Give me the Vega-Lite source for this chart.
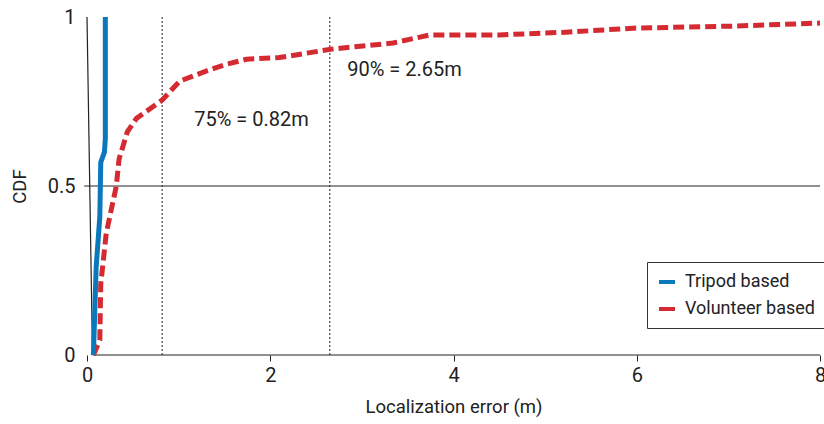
{
  "$schema": "https://vega.github.io/schema/vega-lite/v6.json",
  "width": 733,
  "height": 338,
  "autosize": {"type": "none"},
  "padding": {"left": 87, "top": 17, "right": 4, "bottom": 69},
  "background": "white",
  "config": {
    "view": {"stroke": null},
    "font": "Roboto, sans-serif",
    "text": {"font": "Roboto, sans-serif"}
  },
  "datasets": {
    "curves": [
      {"series": "Tripod based", "x": 0.07, "cdf": 0.0},
      {"series": "Tripod based", "x": 0.10, "cdf": 0.26},
      {"series": "Tripod based", "x": 0.14, "cdf": 0.41},
      {"series": "Tripod based", "x": 0.15, "cdf": 0.57},
      {"series": "Tripod based", "x": 0.19, "cdf": 0.60},
      {"series": "Tripod based", "x": 0.20, "cdf": 0.64},
      {"series": "Tripod based", "x": 0.20, "cdf": 1.0},
      {"series": "Volunteer based", "x": 0.07, "cdf": 0.0},
      {"series": "Volunteer based", "x": 0.14, "cdf": 0.044},
      {"series": "Volunteer based", "x": 0.15, "cdf": 0.21},
      {"series": "Volunteer based", "x": 0.21, "cdf": 0.36},
      {"series": "Volunteer based", "x": 0.32, "cdf": 0.50},
      {"series": "Volunteer based", "x": 0.35, "cdf": 0.58},
      {"series": "Volunteer based", "x": 0.44, "cdf": 0.66},
      {"series": "Volunteer based", "x": 0.54, "cdf": 0.70},
      {"series": "Volunteer based", "x": 0.82, "cdf": 0.754},
      {"series": "Volunteer based", "x": 1.01, "cdf": 0.81},
      {"series": "Volunteer based", "x": 1.30, "cdf": 0.84},
      {"series": "Volunteer based", "x": 1.52, "cdf": 0.86},
      {"series": "Volunteer based", "x": 1.74, "cdf": 0.875},
      {"series": "Volunteer based", "x": 2.10, "cdf": 0.88},
      {"series": "Volunteer based", "x": 2.67, "cdf": 0.905},
      {"series": "Volunteer based", "x": 3.34, "cdf": 0.923},
      {"series": "Volunteer based", "x": 3.74, "cdf": 0.947},
      {"series": "Volunteer based", "x": 4.50, "cdf": 0.947},
      {"series": "Volunteer based", "x": 5.23, "cdf": 0.955},
      {"series": "Volunteer based", "x": 5.96, "cdf": 0.967},
      {"series": "Volunteer based", "x": 7.05, "cdf": 0.973},
      {"series": "Volunteer based", "x": 8.0, "cdf": 0.982}
    ],
    "axisLines": [
      {"x": 0.0, "x2": 0.06, "y": 1.0, "y2": 0.0},
      {"x": 0.06, "x2": 8.0, "y": 0.0, "y2": 0.0},
      {"x": -0.03, "x2": 8.0, "y": 0.5, "y2": 0.5}
    ],
    "marks": [
      {"x": 0.82},
      {"x": 2.65}
    ],
    "labels": [
      {"x": 1.17, "y": 0.695, "text": "75% = 0.82m"},
      {"x": 2.84, "y": 0.843, "text": "90% = 2.65m"}
    ]
  },
  "layer": [
    {
      "data": {"name": "axisLines"},
      "mark": {"type": "rule", "color": "#222222", "strokeWidth": 1.2},
      "encoding": {
        "x": {"field": "x", "type": "quantitative", "scale": {"domain": [0, 8], "nice": false, "clamp": false},
          "axis": {"values": [0, 2, 4, 6, 8], "format": "~g", "domain": false, "grid": false, "ticks": true, "tickSize": 6, "tickColor": "#222222",
            "labelFlush": false, "labelFontSize": 20, "labelColor": "#222222", "labelPadding": 4,
            "title": "Localization error (m)", "titleFontSize": 18.5, "titleFontWeight": "normal", "titleColor": "#222222", "titlePadding": 12,
            "encode": {"labels": {"update": {"dx": {"signal": "datum.value === 0 ? -8 : 0"}}}}}},
        "x2": {"field": "x2"},
        "y": {"field": "y", "type": "quantitative", "scale": {"domain": [0, 1], "nice": false},
          "axis": {"values": [0, 0.5, 1], "format": "~g", "domain": false, "grid": false, "ticks": false,
            "labelFontSize": 20, "labelColor": "#222222", "labelPadding": 12,
            "title": "CDF", "titleFontSize": 18.5, "titleFontWeight": "normal", "titleColor": "#222222", "titlePadding": 18}},
        "y2": {"field": "y2"}
      }
    },
    {
      "data": {"name": "marks"},
      "mark": {"type": "rule", "color": "#222222", "strokeWidth": 1, "strokeDash": [2, 2]},
      "encoding": {
        "x": {"field": "x", "type": "quantitative"},
        "y": {"datum": 0, "type": "quantitative"},
        "y2": {"datum": 1}
      }
    },
    {
      "data": {"name": "labels"},
      "mark": {"type": "text", "align": "left", "baseline": "middle", "fontSize": 20, "color": "#222222"},
      "encoding": {
        "x": {"field": "x", "type": "quantitative"},
        "y": {"field": "y", "type": "quantitative"},
        "text": {"field": "text"}
      }
    },
    {
      "data": {"name": "curves"},
      "transform": [{"filter": "datum.series === 'Volunteer based'"}],
      "mark": {"type": "line", "strokeWidth": 5, "strokeDash": [11, 5], "strokeCap": "butt"},
      "encoding": {
        "x": {"field": "x", "type": "quantitative"},
        "y": {"field": "cdf", "type": "quantitative"},
        "order": {"field": "cdf"},
        "color": {"field": "series", "type": "nominal",
          "scale": {"domain": ["Tripod based", "Volunteer based"], "range": ["#0a78bb", "#d52a31"]},
          "legend": {"title": null, "orient": "none", "legendX": 560, "legendY": 245,
            "symbolType": "stroke", "symbolSize": 256, "symbolStrokeWidth": 4,
            "labelFontSize": 18, "labelColor": "#222222", "labelLimit": 300, "labelOffset": 8,
            "rowPadding": 8, "padding": 10, "strokeColor": "#333333",
            "fillColor": "white", "symbolOffset": 0}}
      }
    },
    {
      "data": {"name": "curves"},
      "transform": [{"filter": "datum.series === 'Tripod based'"}],
      "mark": {"type": "line", "strokeWidth": 5},
      "encoding": {
        "x": {"field": "x", "type": "quantitative"},
        "y": {"field": "cdf", "type": "quantitative"},
        "order": {"field": "cdf"},
        "color": {"field": "series", "type": "nominal"}
      }
    }
  ]
}
